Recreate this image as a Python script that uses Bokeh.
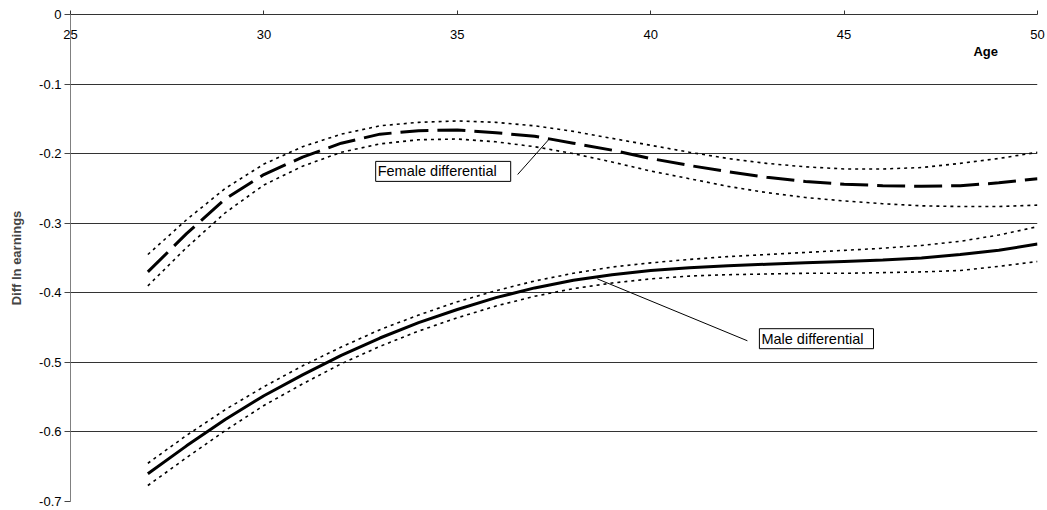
from bokeh.plotting import figure
from bokeh.models import Range1d, FixedTicker, CustomJSTickFormatter, Label, ColumnDataSource
from bokeh.embed import file_html
from bokeh.resources import INLINE

# ---- data ----
age = [27, 28, 29, 30, 31, 32, 33, 34, 35, 36, 37, 38, 39, 40, 41, 42, 43, 44, 45, 46, 47, 48, 49, 50]

female = [-0.370, -0.315, -0.265, -0.230, -0.205, -0.185, -0.172, -0.167, -0.166, -0.170, -0.175, -0.185,
          -0.195, -0.207, -0.217, -0.226, -0.234, -0.240, -0.244, -0.246, -0.247, -0.246, -0.242, -0.236]
female_upper = [-0.345, -0.295, -0.250, -0.215, -0.190, -0.172, -0.160, -0.155, -0.153, -0.155, -0.160, -0.168,
                -0.178, -0.188, -0.198, -0.207, -0.214, -0.219, -0.222, -0.222, -0.220, -0.214, -0.207, -0.198]
female_lower = [-0.390, -0.335, -0.285, -0.245, -0.218, -0.198, -0.186, -0.180, -0.179, -0.183, -0.190, -0.200,
                -0.212, -0.225, -0.236, -0.247, -0.256, -0.263, -0.268, -0.272, -0.275, -0.276, -0.276, -0.274]

male = [-0.660, -0.620, -0.582, -0.548, -0.518, -0.490, -0.465, -0.443, -0.424, -0.407, -0.393, -0.382,
        -0.374, -0.368, -0.364, -0.361, -0.359, -0.357, -0.355, -0.353, -0.350, -0.345, -0.339, -0.330]
male_upper = [-0.645, -0.605, -0.568, -0.535, -0.505, -0.478, -0.453, -0.432, -0.413, -0.397, -0.383, -0.372,
              -0.363, -0.357, -0.352, -0.348, -0.345, -0.342, -0.339, -0.336, -0.332, -0.326, -0.317, -0.305]
male_lower = [-0.677, -0.637, -0.598, -0.562, -0.531, -0.502, -0.477, -0.455, -0.436, -0.419, -0.405, -0.394,
              -0.386, -0.380, -0.376, -0.374, -0.373, -0.372, -0.372, -0.371, -0.370, -0.368, -0.362, -0.355]

x_ticks = [25, 30, 35, 40, 45, 50]
y_ticks = [0, -0.1, -0.2, -0.3, -0.4, -0.5, -0.6, -0.7]

# annotation texts and leader lines (data coordinates)
label_texts = ["Female differential", "Male differential"]
label_x = [32.89, 42.81]
label_y = [-0.2255, -0.466]
leader_x0 = [36.56, 42.50]
leader_y0 = [-0.230, -0.469]
leader_x1 = [37.36, 38.62]
leader_y1 = [-0.180, -0.380]

FONT = "Liberation Sans"

p = figure(width=1047, height=510, output_backend="svg", toolbar_location=None,
           x_range=Range1d(25, 50), y_range=Range1d(-0.7, 0), x_axis_location="above",
           min_border_left=70, min_border_right=10, min_border_top=14, min_border_bottom=9)
p.outline_line_color = None
p.background_fill_color = "white"

# x axis along y = 0 (top), labels drawn below the line, ticks pointing up
xa = p.xaxis[0]
xa.ticker = FixedTicker(ticks=x_ticks)
xa.major_tick_in = 0
xa.major_tick_out = 4
xa.minor_tick_line_color = None
xa.major_label_standoff = -28
xa.axis_line_color = "#333333"
xa.major_tick_line_color = "#333333"
xa.major_label_text_font = FONT
xa.major_label_text_font_size = "13px"
xa.major_label_text_color = "black"

ya = p.yaxis[0]
ya.ticker = FixedTicker(ticks=y_ticks)
ya.formatter = CustomJSTickFormatter(code="return Math.abs(tick) < 1e-9 ? '0' : tick.toFixed(1);")
ya.major_tick_in = 0
ya.major_tick_out = 6
ya.minor_tick_line_color = None
ya.major_label_standoff = 3
ya.axis_line_color = "#808080"
ya.major_tick_line_color = "#444444"
ya.major_label_text_font = FONT
ya.major_label_text_font_size = "13px"
ya.major_label_text_color = "black"
ya.axis_label = "Diff ln earnings"
ya.axis_label_text_font = FONT
ya.axis_label_text_font_style = "bold"
ya.axis_label_text_font_size = "13px"
ya.axis_label_standoff = 12

p.xgrid.visible = False
p.ygrid.ticker = FixedTicker(ticks=y_ticks)
p.ygrid.grid_line_color = "#333333"
p.ygrid.grid_line_width = 1

src = ColumnDataSource(dict(age=age, female=female, female_upper=female_upper, female_lower=female_lower,
                            male=male, male_upper=male_upper, male_lower=male_lower))

for col in ["female_upper", "female_lower", "male_upper", "male_lower"]:
    p.line("age", col, source=src, line_color="black", line_width=1.6, line_dash="3 4")

p.line("age", "female", source=src, line_color="black", line_width=3, line_dash="28 9")
p.line("age", "male", source=src, line_color="black", line_width=3)

p.segment(x0=leader_x0, y0=leader_y0, x1=leader_x1, y1=leader_y1, line_color="black", line_width=1)

paddings = [(2, 14, 2, 2), (2, 10, 2, 2)]
for t, lx, ly, pad in zip(label_texts, label_x, label_y, paddings):
    p.add_layout(Label(x=lx, y=ly, text=t, text_font=FONT, text_font_size="14.5px",
                       text_align="left", text_baseline="middle", text_color="black",
                       border_line_color="black", border_line_width=1,
                       background_fill_color="white", padding=pad))

p.add_layout(Label(x=48.66, y=-0.053, text="Age", text_font=FONT, text_font_size="13px",
                   text_font_style="bold", text_align="center", text_baseline="middle",
                   text_color="black"))

open("out.html", "w").write(file_html(p, INLINE))
